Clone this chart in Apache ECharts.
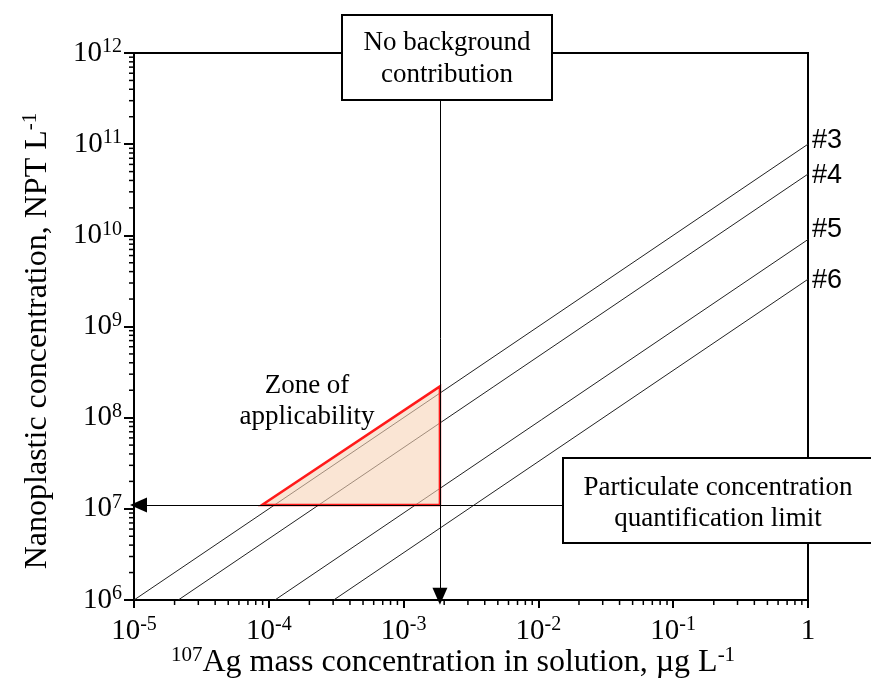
<!DOCTYPE html>
<html>
<head>
<meta charset="utf-8">
<script src="https://cdn.jsdelivr.net/npm/echarts@6/dist/echarts.min.js"></script>
<style>html,body{margin:0;padding:0;background:#fff;}#c{width:871px;height:686px;}</style>
</head>
<body>
<div id="c"></div>
<script>
// ---- data ----
const seriesNames = ['#3', '#4', '#5', '#6'];
const lineStartX = [1e-5, 2.13e-5, 1.11e-4, 3.03e-4];   // x where each line meets 1e6
const lineEndY   = [1e11, 4.7e10, 9.0e9, 3.3e9];         // y value at x = 1
const zoneX = [8.9e-5, 1.86e-3, 1.86e-3];
const zoneY = [1.1e7, 1.1e7, 2.2e8];
const quantLimitY = 1.1e7;        // horizontal arrow
const noBackgroundX = 1.86e-3;    // vertical arrow
const xDecades = [-5, -4, -3, -2, -1];
const yDecades = [6, 7, 8, 9, 10, 11];
const minorMult = [2, 3, 4, 5, 6, 7, 8, 9];

const SERIF = '"Liberation Serif", "Times New Roman", serif';
const SANS = '"Liberation Sans", Arial, sans-serif';

const xMinor = [];
xDecades.forEach(d => minorMult.forEach(m => xMinor.push([m * Math.pow(10, d), 1e6])));
const yMinor = [];
yDecades.forEach(d => minorMult.forEach(m => yMinor.push([1e-5, m * Math.pow(10, d)])));

function supLabel(v) {
  const e = Math.round(Math.log10(v));
  if (e === 0) return '{a|1}';
  return '{a|10}{b|' + e + '}';
}
const labelRich = {
  a: { fontSize: 29, fontFamily: SERIF, color: '#000', lineHeight: 32 },
  b: { fontSize: 20, fontFamily: SERIF, color: '#000', verticalAlign: 'top', lineHeight: 32, padding: [0, 0, 11, 0] }
};

const lineSeries = seriesNames.map((n, i) => ({
  name: n,
  type: 'line',
  data: [[lineStartX[i], 1e6], [1, lineEndY[i]]],
  symbol: 'none',
  lineStyle: { color: '#222', width: 1 },
  silent: true,
  z: 3,
  endLabel: {
    show: true,
    formatter: '{a}',
    fontFamily: SANS,
    fontSize: 27,
    color: '#000',
    distance: 4,
    offset: n === '#5' ? [0, -10] : (n === '#3' ? [0, -4] : [0, 1])
  }
}));

const chart = echarts.init(document.getElementById('c'));
chart.setOption({
  animation: false,
  backgroundColor: '#fff',
  grid: { left: 134, right: 63, top: 53, bottom: 86, show: true, borderColor: '#000', borderWidth: 2, backgroundColor: 'transparent' },
  xAxis: {
    type: 'log', logBase: 10, min: 1e-5, max: 1,
    axisLine: { show: true, lineStyle: { color: '#000', width: 2 } },
    axisTick: { show: true, inside: false, length: 8, lineStyle: { color: '#000', width: 2 } },
    splitLine: { show: false },
    axisLabel: { margin: 15, formatter: supLabel, rich: labelRich, showMinLabel: true, showMaxLabel: true }
  },
  yAxis: {
    type: 'log', logBase: 10, min: 1e6, max: 1e12,
    axisLine: { show: true, lineStyle: { color: '#000', width: 2 } },
    axisTick: { show: true, inside: false, length: 10, lineStyle: { color: '#000', width: 2 } },
    splitLine: { show: false },
    axisLabel: { margin: 12, formatter: supLabel, rich: labelRich, showMinLabel: true, showMaxLabel: true }
  },
  graphic: [
    { type: 'rect', z: 100, shape: { x: 342, y: 15, width: 210, height: 85 }, style: { fill: '#fff', stroke: '#000', lineWidth: 2 } },
    { type: 'text', z: 101, x: 447, y: 59, style: { text: 'No background\ncontribution', font: '27px ' + SERIF, fill: '#000', align: 'center', verticalAlign: 'middle', lineHeight: 32 } },
    { type: 'rect', z: 100, shape: { x: 563, y: 458, width: 330, height: 85 }, style: { fill: '#fff', stroke: '#000', lineWidth: 2 } },
    { type: 'text', z: 101, x: 718, y: 503, style: { text: 'Particulate concentration\nquantification limit', font: '27px ' + SERIF, fill: '#000', align: 'center', verticalAlign: 'middle', lineHeight: 31 } },
    { type: 'text', z: 101, x: 307, y: 401, style: { text: 'Zone of\napplicability', font: '27px ' + SERIF, fill: '#000', align: 'center', verticalAlign: 'middle', lineHeight: 31 } },
    { type: 'text', z: 101, x: 453, y: 663, style: {
        text: '{s|107}{m|Ag mass concentration in solution, µg L}{s|-1}', align: 'center', verticalAlign: 'middle',
        rich: { m: { fontSize: 32, fontFamily: SERIF, fill: '#000', lineHeight: 36 }, s: { fontSize: 21, fontFamily: SERIF, fill: '#000', verticalAlign: 'top', lineHeight: 36, padding: [0, 0, 13, 0] } } } },
    { type: 'text', z: 101, x: 38, y: 341, rotation: Math.PI / 2, style: {
        text: '{m|Nanoplastic concentration, NPT L}{s|-1}', align: 'center', verticalAlign: 'middle',
        rich: { m: { fontSize: 32, fontFamily: SERIF, fill: '#000', lineHeight: 36 }, s: { fontSize: 21, fontFamily: SERIF, fill: '#000', verticalAlign: 'top', lineHeight: 36, padding: [0, 0, 13, 0] } } } }
  ],
  series: lineSeries.concat([
    {
      type: 'custom', name: 'zone', silent: true, z: 4, clip: false,
      data: zoneX.map((x, i) => [x, zoneY[i]]),
      renderItem: function (params, api) {
        if (params.dataIndex !== 0) return null;
        const pts = zoneX.map((x, i) => api.coord([x, zoneY[i]]));
        return { type: 'polygon', shape: { points: pts }, style: { fill: 'rgba(246,212,184,0.6)', stroke: '#ff1a1a', lineWidth: 2.5 } };
      }
    },
    {
      type: 'line', name: 'arrows', data: [], silent: true, z: 5,
      markLine: {
        silent: true, animation: false,
        symbol: ['none', 'triangle'], symbolSize: [15, 17],
        label: { show: false },
        lineStyle: { color: '#000', width: 1, type: 'solid' },
        emphasis: { disabled: true },
        data: [
          [{ coord: [0.02, quantLimitY] }, { coord: [1.08e-5, quantLimitY] }],
          [{ coord: [noBackgroundX, 5e11] }, { coord: [noBackgroundX, 1.1e6] }]
        ]
      }
    },
    {
      type: 'custom', name: 'xminor', silent: true, clip: false, z: 6,
      data: xMinor,
      renderItem: function (params, api) {
        const p = api.coord([api.value(0), api.value(1)]);
        return { type: 'line', shape: { x1: p[0], y1: p[1], x2: p[0], y2: p[1] + 5 }, style: { stroke: '#000', lineWidth: 1.5 } };
      }
    },
    {
      type: 'custom', name: 'yminor', silent: true, clip: false, z: 6,
      data: yMinor,
      renderItem: function (params, api) {
        const p = api.coord([api.value(0), api.value(1)]);
        return { type: 'line', shape: { x1: p[0] - 5, y1: p[1], x2: p[0], y2: p[1] }, style: { stroke: '#000', lineWidth: 1.5 } };
      }
    }
  ])
});
</script>
</body>
</html>
